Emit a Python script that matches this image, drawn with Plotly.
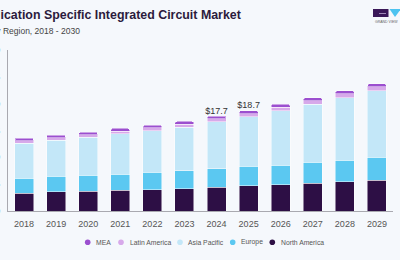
import plotly.graph_objects as go

# ---------------- data (USD Billion) ----------------
years = ["2018", "2019", "2020", "2021", "2022", "2023", "2024",
         "2025", "2026", "2027", "2028", "2029", "2030"]
north_america = [3.35, 3.55, 3.72, 3.85, 3.98, 4.15, 4.45, 4.70, 4.90, 5.15, 5.45, 5.70, 6.00]
europe =        [2.75, 2.90, 2.95, 3.00, 3.20, 3.35, 3.45, 3.60, 3.65, 3.90, 4.00, 4.30, 4.50]
asia_pacific =  [6.55, 6.75, 7.05, 7.55, 7.80, 8.13, 8.70, 9.25, 10.17, 10.85, 11.70, 12.40, 13.45]
latin_america = [0.45, 0.45, 0.48, 0.50, 0.52, 0.55, 0.58, 0.60, 0.63, 0.65, 0.70, 0.72, 0.75]
mea =           [0.50, 0.50, 0.50, 0.50, 0.50, 0.52, 0.52, 0.55, 0.55, 0.55, 0.55, 0.58, 0.60]
label_years = ["2024", "2025", "2030"]
label_values = [17.7, 18.7, 25.3]
y_ticks = [0, 5, 10, 15, 20, 25, 30]
visible_years = 12  # categories shown inside the plot window

series = [
    ("North America", north_america, "#2d0f45"),
    ("Europe", europe, "#5bc8f1"),
    ("Asia Pacific", asia_pacific, "#c3e7f8"),
    ("Latin America", latin_america, "#d7a9ea"),
    ("MEA", mea, "#9b4fcf"),
]
legend_order = ["MEA", "Latin America", "Asia Pacific", "Europe", "North America"]

# ---------------- geometry ----------------
W, H = 400, 260
L, R, T, B = 8, 7, 50, 49
PW, PH = W - L - R, H - T - B
Y_MAX = 30
FONT = "Liberation Sans, Arial, sans-serif"


def px(x):
    return (x - L) / PW


def py(y):
    return (H - B - y) / PH


fig = go.Figure()
for name, vals, col in series:
    fig.add_trace(go.Bar(
        x=years, y=vals, name=name, marker_color=col,
        marker_line=dict(color="rgba(255,255,255,0.8)", width=0.6),
        showlegend=False,
    ))

# total value labels
fig.add_trace(go.Scatter(
    x=label_years, y=label_values, mode="text",
    text=["$" + f"{v:.1f}" for v in label_values],
    textposition="top center", cliponaxis=False,
    textfont=dict(size=9, color="#333333", family=FONT),
    showlegend=False, hoverinfo="skip",
))

# tick label for the category that lies beyond the window edge (partly visible)
fig.add_trace(go.Scatter(
    x=years[visible_years:], y=[-12 * Y_MAX / PH] * len(years[visible_years:]),
    mode="text", text=years[visible_years:], textposition="middle center",
    cliponaxis=False, textfont=dict(size=9, color="#555555", family=FONT),
    showlegend=False, hoverinfo="skip",
))

annotations = []
shapes = []

# title / subtitle (cropped at the left edge)
annotations.append(dict(
    text="Application Specific Integrated Circuit Market", xref="paper", yref="paper",
    x=px(243), y=py(15), xanchor="right", yanchor="middle", showarrow=False,
    font=dict(size=12.4, color="#2b1b3d", family=FONT, weight=700)))
annotations.append(dict(
    text="Market Size, by Region, 2018 - 2030", xref="paper", yref="paper",
    x=px(82), y=py(31), xanchor="right", yanchor="middle", showarrow=False,
    font=dict(size=8.5, color="#444444", family=FONT)))

# legend (manual, circular markers)
legend_cx = [87.7, 121.0, 180.0, 232.7, 272.3]
legend_tx = [94.0, 127.7, 186.0, 239.0, 278.7]
legend_y = 242.3
colors = {n: c for n, _, c in series}
for name, cx, tx in zip(legend_order, legend_cx, legend_tx):
    r = 2.8
    shapes.append(dict(type="circle", xref="paper", yref="paper",
                       x0=px(cx - r), x1=px(cx + r), y0=py(legend_y + r), y1=py(legend_y - r),
                       fillcolor=colors[name], line=dict(width=0)))
    annotations.append(dict(text=name, xref="paper", yref="paper", x=px(tx), y=py(legend_y),
                            xanchor="left", yanchor="middle", showarrow=False,
                            font=dict(size=6.8, color="#555555", family=FONT)))

# logo (top-right corner)
shapes.append(dict(type="rect", xref="paper", yref="paper",
                   x0=px(373), x1=px(388.5), y0=py(17), y1=py(9),
                   fillcolor="#3a1858", line=dict(width=0)))
shapes.append(dict(type="line", xref="paper", yref="paper",
                   x0=px(379), x1=px(386), y0=py(13.5), y1=py(13.5),
                   line=dict(color="#b9a6cf", width=0.8)))
shapes.append(dict(type="path", xref="paper", yref="paper",
                   path=f"M {px(389.5)} {py(9)} L {px(401)} {py(9)} L {px(395)} {py(17)} Z",
                   fillcolor="#4cc3f0", line=dict(width=0)))
annotations.append(dict(text="GRAND VIEW", xref="paper", yref="paper", x=px(373), y=py(22),
                        xanchor="left", yanchor="middle", showarrow=False,
                        font=dict(size=3.5, color="#666666", family=FONT)))

fig.update_layout(
    width=W, height=H, margin=dict(l=L, r=R, t=T, b=B, autoexpand=False),
    paper_bgcolor="#f5f8fc", plot_bgcolor="#f5f8fc",
    barmode="stack", bargap=0.41, barcornerradius=2,
    showlegend=False,
    font=dict(family=FONT),
    annotations=annotations, shapes=shapes,
)
fig.update_xaxes(
    type="category", range=[-0.5, visible_years - 0.5], automargin=False,
    showline=True, linecolor="#a9a9b0", linewidth=1,
    showgrid=False, ticks="", ticklabelstandoff=4,
    tickfont=dict(size=9, color="#555555", family=FONT),
)
fig.update_yaxes(
    range=[0, Y_MAX], tickvals=y_ticks, automargin=False,
    showline=True, linecolor="#a9a9b0", linewidth=1,
    showgrid=False, zeroline=False, ticks="", ticklabelstandoff=5,
    tickfont=dict(size=9, color="#555555", family=FONT),
)

fig.write_html("out.html")
